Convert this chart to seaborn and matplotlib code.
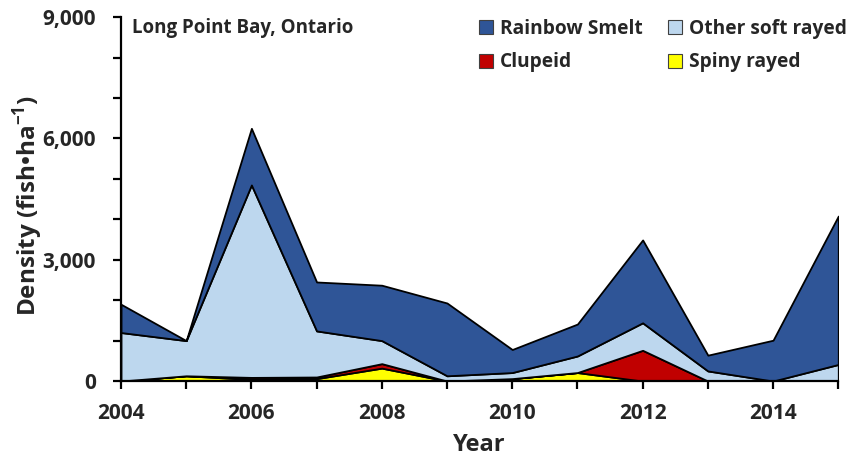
import matplotlib
matplotlib.use("Agg")
import matplotlib.pyplot as plt
from matplotlib.ticker import MultipleLocator, FuncFormatter
from matplotlib.patches import Patch
import seaborn as sns
import pandas as pd

# Hydroacoustic density estimates by fish group (fish per hectare)
years = [2004, 2005, 2006, 2007, 2008, 2009, 2010, 2011, 2012, 2013, 2014, 2015]
spiny_rayed = [0, 130, 40, 60, 320, 0, 60, 210, 0, 0, 0, 0]
clupeid = [0, 0, 50, 40, 110, 0, 0, 0, 760, 0, 0, 0]
other_soft_rayed = [1200, 870, 4760, 1140, 570, 130, 150, 410, 680, 250, 0, 410]
rainbow_smelt = [700, 0, 1400, 1210, 1370, 1800, 570, 790, 2050, 390, 1010, 3670]

groups = ["Spiny rayed", "Clupeid", "Other soft rayed", "Rainbow Smelt"]
colors = {"Spiny rayed": "#FFFF00", "Clupeid": "#C00000",
          "Other soft rayed": "#BDD7EE", "Rainbow Smelt": "#2F5597"}

df = pd.DataFrame({"Year": years, "Spiny rayed": spiny_rayed, "Clupeid": clupeid,
                   "Other soft rayed": other_soft_rayed, "Rainbow Smelt": rainbow_smelt})

sns.set_theme(style="ticks")
plt.rcParams["font.family"] = ["Open Sans", "DejaVu Sans"]
plt.rcParams["font.weight"] = "bold"
plt.rcParams["mathtext.fontset"] = "custom"
plt.rcParams["mathtext.rm"] = "Open Sans:bold"
plt.rcParams["mathtext.bf"] = "Open Sans:bold"

fig = plt.figure(figsize=(8.58, 4.63), dpi=100)
ax = fig.add_axes([0.141, 0.177, 0.836, 0.786])

ax.stackplot(df["Year"], [df[g] for g in groups],
             colors=[colors[g] for g in groups],
             edgecolor="black", linewidth=1.3)

ax.set_xlim(2004, 2015)
ax.set_ylim(0, 9000)
ax.xaxis.set_major_locator(MultipleLocator(2))
ax.xaxis.set_minor_locator(MultipleLocator(1))
ax.yaxis.set_major_locator(MultipleLocator(3000))
ax.yaxis.set_minor_locator(MultipleLocator(1000))
ax.yaxis.set_major_formatter(FuncFormatter(lambda v, p: f"{int(v):,}"))

for s in ["top", "right"]:
    ax.spines[s].set_visible(False)
for s in ["left", "bottom"]:
    ax.spines[s].set_linewidth(1.6)
    ax.spines[s].set_color("black")

ax.tick_params(which="both", direction="out", width=1.6, color="black")
ax.tick_params(which="major", length=6, labelsize=15)
ax.tick_params(axis="x", which="major", pad=10)
ax.tick_params(axis="y", which="major", pad=12)
ax.tick_params(which="minor", length=6)
for lab in ax.get_xticklabels() + ax.get_yticklabels():
    lab.set_fontweight("bold")

ax.set_xlabel("Year", fontsize=17, fontweight="bold", labelpad=6)
ax.set_ylabel(r"Density (fish•ha$^{\mathbf{-1}}$)", fontsize=17.5,
              fontweight="bold")
ax.yaxis.set_label_coords(-0.106, 0.483)

ax.text(0.016, 0.997, "Long Point Bay, Ontario", transform=ax.transAxes,
        ha="left", va="top", fontsize=13.5, fontweight="bold")

order = ["Rainbow Smelt", "Clupeid", "Other soft rayed", "Spiny rayed"]
handles = [Patch(facecolor=colors[g], edgecolor="#404040", linewidth=0.8, label=g)
           for g in order]
leg = fig.legend(handles=handles, ncol=2, loc="upper left",
                 bbox_to_anchor=(469 / 858, 1 - 9 / 463),
                 bbox_transform=fig.transFigure, frameon=False,
                 prop={"size": 13.8, "weight": "bold"}, borderpad=0,
                 handlelength=0.75, handleheight=0.75, handletextpad=0.36,
                 columnspacing=1.3, labelspacing=0.72)

fig.savefig("out.png", dpi=100, facecolor="white")
